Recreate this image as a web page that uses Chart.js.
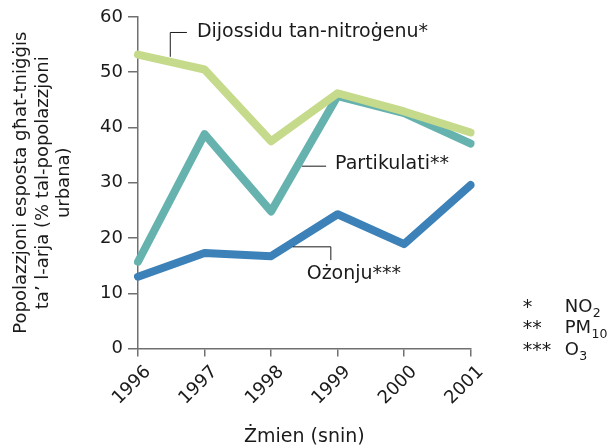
<!DOCTYPE html>
<html>
<head>
<meta charset="utf-8">
<script src="https://cdn.jsdelivr.net/npm/chart.js@4/dist/chart.umd.min.js"></script>
<style>
  html, body { margin: 0; padding: 0; background: #ffffff; }
  canvas { display: block; }
</style>
</head>
<body>
<canvas id="c" width="614" height="448"></canvas>
<script>
// ---- data ----
const years = ['1996', '1997', '1998', '1999', '2000', '2001'];
const no2Values = [53.2, 50.5, 37.5, 46.2, 42.9, 39.1];
const pm10Values = [15.7, 38.8, 24.8, 45.7, 42.6, 37.1];
const o3Values = [13.0, 17.3, 16.7, 24.3, 18.9, 29.6];
const seriesLabels = ['Dijossidu tan-nitroġenu*', 'Partikulati**', 'Ożonju***'];
const yTitleLines = ['Popolazzjoni esposta għat-tniġġis', 'ta\u2019 l-arja (% tal-popolazzjoni', 'urbana)'];
const xTitle = 'Żmien (snin)';
const footStars = ['*', '**', '***'];
const footMain = ['NO', 'PM', 'O'];
const footSub = ['2', '10', '3'];
const yMin = 0, yMax = 60, yStep = 10;

// ---- styles ----
const FONT = "'DejaVu Sans', Verdana, sans-serif";
const TEXT = '#1a1a1a';
const AXIS = '#707070';
const colNO2 = '#c5da8b';
const colPM = '#66b2ae';
const colO3 = '#3c81b8';

// annotation layout (in data coordinates: x = category index, y = value)
const annotations = [
  { text: seriesLabels[0], path: [[0.485, 52.8], [0.485, 57.2], [0.735, 57.2]], tx: 0.885, ty: 57.3 },
  { text: seriesLabels[1], path: [[2.463, 33.0], [2.827, 33.0]], tx: 2.962, ty: 33.3 },
  { text: seriesLabels[2], path: [[2.327, 18.4], [2.898, 18.4], [2.898, 16.0]], tx: 2.535, ty: 13.4 }
];

const annotPlugin = {
  id: 'annot',
  afterDatasetsDraw(chart) {
    const ctx = chart.ctx;
    const xs = chart.scales.x, ys = chart.scales.y;
    ctx.save();
    ctx.strokeStyle = TEXT;
    ctx.lineWidth = 1;
    ctx.fillStyle = TEXT;
    ctx.font = '19px ' + FONT;
    ctx.textAlign = 'left';
    ctx.textBaseline = 'middle';
    annotations.forEach(a => {
      ctx.beginPath();
      a.path.forEach((p, i) => {
        const px = xs.getPixelForValue(p[0]);
        const py = ys.getPixelForValue(p[1]);
        if (i === 0) ctx.moveTo(px, py); else ctx.lineTo(px, py);
      });
      ctx.stroke();
      ctx.fillText(a.text, xs.getPixelForValue(a.tx), ys.getPixelForValue(a.ty));
    });
    // footnotes
    const ca = chart.chartArea;
    const starX = ca.right + 52;
    const textX = ca.right + 94;
    const baselines = [311.5, 333.3, 355];
    ctx.textBaseline = 'alphabetic';
    footStars.forEach((s, i) => {
      ctx.font = '19px ' + FONT;
      ctx.fillText(s, starX, baselines[i] + 1);
      ctx.font = '18px ' + FONT;
      ctx.fillText(footMain[i], textX, baselines[i]);
      const w = ctx.measureText(footMain[i]).width;
      ctx.font = '12.5px ' + FONT;
      ctx.fillText(footSub[i], textX + w + 0.5, baselines[i] + 5);
    });
    ctx.restore();
  }
};

new Chart(document.getElementById('c'), {
  type: 'line',
  data: {
    labels: years,
    datasets: [
      { label: seriesLabels[0], data: no2Values, borderColor: colNO2, backgroundColor: colNO2 },
      { label: seriesLabels[1], data: pm10Values, borderColor: colPM, backgroundColor: colPM },
      { label: seriesLabels[2], data: o3Values, borderColor: colO3, backgroundColor: colO3 }
    ]
  },
  options: {
    responsive: false,
    animation: false,
    devicePixelRatio: 1,
    layout: { padding: { left: 0, right: 143.3, top: 17, bottom: 0 } },
    elements: {
      line: { borderWidth: 8, tension: 0, borderCapStyle: 'round', borderJoinStyle: 'round', fill: false },
      point: { radius: 0, hoverRadius: 0 }
    },
    plugins: {
      legend: { display: false },
      tooltip: { enabled: false },
      title: { display: false }
    },
    scales: {
      x: {
        type: 'category',
        offset: false,
        afterFit(scale) { scale.height = 99.5; },
        grid: { display: true, drawOnChartArea: false, drawTicks: true, tickLength: 8, color: AXIS, lineWidth: 1.5 },
        border: { display: true, color: AXIS, width: 1.5 },
        ticks: {
          color: TEXT, font: { family: FONT, size: 18 },
          minRotation: 45, maxRotation: 45, padding: 5, labelOffset: 10, autoSkip: false
        },
        title: { display: true, text: xTitle, color: TEXT, font: { family: FONT, size: 19 }, padding: { top: 0, bottom: 0 } }
      },
      y: {
        min: yMin, max: yMax,
        afterFit(scale) { scale.width = 138; },
        grid: { display: true, drawOnChartArea: false, drawTicks: true, tickLength: 10, color: AXIS, lineWidth: 1.5 },
        border: { display: true, color: AXIS, width: 1.5 },
        ticks: { stepSize: yStep, color: TEXT, font: { family: FONT, size: 18 }, padding: 5 },
        title: {
          display: true, text: yTitleLines, color: TEXT,
          font: { family: FONT, size: 18, lineHeight: 1.2 }, padding: { top: 10.5, bottom: 0 }
        }
      }
    }
  },
  plugins: [annotPlugin]
});
</script>
</body>
</html>
